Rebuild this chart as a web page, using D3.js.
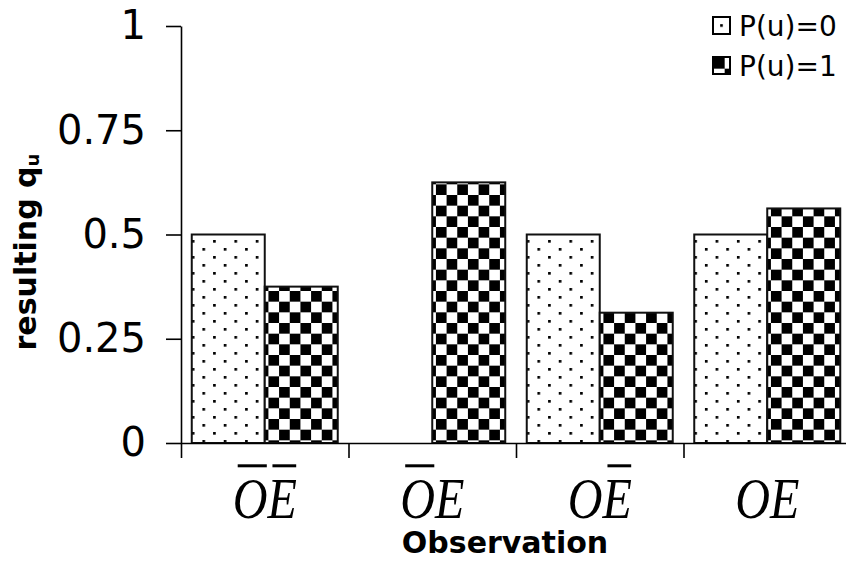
<!DOCTYPE html>
<html><head><meta charset="utf-8">
<script src="https://cdn.jsdelivr.net/npm/d3@7"></script>
<style>body{margin:0;background:#fff}</style>
</head><body><svg id="chart" width="846" height="562"></svg>
<script>
// ---- data ----
const categories = ["¬O¬E", "¬OE", "O¬E", "OE"];   // ¬ = overline (negation)
const seriesNames = ["P(u)=0", "P(u)=1"];
const valuesP0 = [0.5, 0, 0.5, 0.5];
const valuesP1 = [0.375, 0.625, 0.3125, 0.5625];
const yTicks = [0, 0.25, 0.5, 0.75, 1];
const yTickLabels = ["0", "0.25", "0.5", "0.75", "1"];
const xTitle = "Observation";
const yTitleMain = "resulting q";
const yTitleSub = "u";

// ---- layout ----
const svg = d3.select("#chart");
const plot = {left: 181, right: 851, top: 26, bottom: 443};
const defs = svg.append("defs");
const u = 8 / 3;

function dotPattern(id, ox, oy) {
  const p = defs.append("pattern").attr("id", id).attr("patternUnits", "userSpaceOnUse")
    .attr("x", ox).attr("y", oy).attr("width", 8 * u).attr("height", 6 * u);
  p.append("rect").attr("width", 8 * u).attr("height", 6 * u).attr("fill", "#fff");
  p.append("rect").attr("x", 0).attr("y", 0).attr("width", u).attr("height", u).attr("fill", "#000");
  p.append("rect").attr("x", 4 * u).attr("y", 3 * u).attr("width", u).attr("height", u).attr("fill", "#000");
}
function checkPattern(id, ox, oy) {
  const p = defs.append("pattern").attr("id", id).attr("patternUnits", "userSpaceOnUse")
    .attr("x", ox).attr("y", oy).attr("width", 8 * u).attr("height", 8 * u);
  p.append("rect").attr("width", 8 * u).attr("height", 8 * u).attr("fill", "#fff");
  p.append("rect").attr("x", 0).attr("y", 0).attr("width", 4 * u).attr("height", 4 * u).attr("fill", "#000");
  p.append("rect").attr("x", 4 * u).attr("y", 4 * u).attr("width", 4 * u).attr("height", 4 * u).attr("fill", "#000");
}
dotPattern("dots", 0, 0);
checkPattern("checks", 2, 3);
const fills = ["url(#dots)", "url(#checks)"];

const x0 = d3.scaleBand().domain(categories).range([plot.left, plot.right])
  .paddingInner(0.1284).paddingOuter(0.0642);
const x1 = d3.scaleBand().domain(seriesNames).range([0, x0.bandwidth()]);
const y = d3.scaleLinear().domain([0, 1]).range([plot.bottom, plot.top]);

const table = categories.map((c, i) => ({cat: c, vals: [valuesP0[i], valuesP1[i]]}));

// ---- bars ----
const groups = svg.append("g").selectAll("g").data(table).join("g")
  .attr("transform", d => `translate(${x0(d.cat)},0)`);
groups.selectAll("rect").data(d => d.vals.map((v, j) => ({v, j})))
  .join("rect")
  .attr("x", d => x1(seriesNames[d.j]))
  .attr("y", d => y(d.v))
  .attr("width", x1.bandwidth())
  .attr("height", d => y(0) - y(d.v))
  .attr("fill", d => fills[d.j])
  .attr("stroke", d => d.v > 0 ? "#111" : "none")
  .attr("stroke-width", 2);

// ---- y axis ----
const yAxis = d3.axisLeft(y).tickValues(yTicks).tickSize(15).tickSizeOuter(0).tickPadding(20)
  .tickFormat(d => yTickLabels[yTicks.indexOf(d)]);
const gy = svg.append("g").attr("transform", `translate(${plot.left},0)`).call(yAxis);
gy.selectAll("path,line").attr("stroke", "#000").attr("stroke-width", 1.6);
gy.selectAll("text").attr("font-family", "DejaVu Sans, Verdana, sans-serif")
  .attr("font-size", 40).attr("fill", "#000");

// ---- x axis (ticks at category boundaries) ----
const xb = d3.scaleLinear().domain([0, categories.length]).range([plot.left, plot.right]);
const xAxis = d3.axisBottom(xb).tickValues(d3.range(categories.length + 1))
  .tickSize(15).tickSizeOuter(0).tickFormat("");
const gx = svg.append("g").attr("transform", `translate(0,${plot.bottom})`).call(xAxis);
gx.selectAll("path,line").attr("stroke", "#000").attr("stroke-width", 1.6);

// ---- x category labels with overlines ----
const labelSize = 58, labelBase = 518, sx = 0.83;
table.forEach(d => {
  const letters = [];
  for (let k = 0; k < d.cat.length; k++) {
    if (d.cat[k] === "¬") { letters.push({ch: d.cat[k + 1], neg: true}); k++; }
    else letters.push({ch: d.cat[k], neg: false});
  }
  const cx = x0(d.cat) + x0.bandwidth() / 2;
  const g = svg.append("g").attr("transform", `translate(${cx},${labelBase}) scale(${sx},1)`);
  const t = g.append("text").attr("text-anchor", "middle")
    .attr("font-family", "Liberation Serif, Times New Roman, serif")
    .attr("font-style", "italic").attr("font-size", labelSize).attr("fill", "#000")
    .text(letters.map(l => l.ch).join(""));
  letters.forEach((l, k) => {
    if (!l.neg) return;
    const ext = t.node().getExtentOfChar(k);
    const sl = 0.07 * labelSize;
    g.append("line")
      .attr("x1", ext.x + sl + 2).attr("x2", ext.x + ext.width + sl - 4 / sx)
      .attr("y1", -0.9 * labelSize).attr("y2", -0.9 * labelSize)
      .attr("stroke", "#000").attr("stroke-width", 3);
  });
});

// ---- axis titles ----
svg.append("text").attr("x", 505).attr("y", 553).attr("text-anchor", "middle")
  .attr("font-family", "DejaVu Sans, Verdana, sans-serif").attr("font-weight", "bold")
  .attr("font-size", 30).attr("fill", "#000").text(xTitle);

const yt = svg.append("text").attr("transform", "translate(36,252) rotate(-90)")
  .attr("text-anchor", "middle")
  .attr("font-family", "DejaVu Sans, Verdana, sans-serif").attr("font-weight", "bold")
  .attr("font-size", 30).attr("fill", "#000");
yt.append("tspan").text(yTitleMain);
yt.append("tspan").attr("font-size", 18).attr("dy", 3).text(yTitleSub);

// ---- legend ----
const lg = {x: 713, y: [17, 57], size: 17};
dotPattern("dotsL", lg.x + lg.size / 2 - u / 2, lg.y[0] + lg.size / 2 - u / 2);
checkPattern("checksL", lg.x + 1, lg.y[1] + 1);
const lfills = ["url(#dotsL)", "url(#checksL)"];
seriesNames.forEach((s, j) => {
  svg.append("rect").attr("x", lg.x).attr("y", lg.y[j]).attr("width", lg.size).attr("height", lg.size)
    .attr("fill", lfills[j]).attr("stroke", "#000").attr("stroke-width", 2);
  svg.append("text").attr("x", lg.x + 26).attr("y", lg.y[j] + lg.size / 2).attr("dy", "0.36em")
    .attr("font-family", "DejaVu Sans, Verdana, sans-serif").attr("font-size", 28).attr("fill", "#000")
    .text(s);
});
</script>
</body></html>
